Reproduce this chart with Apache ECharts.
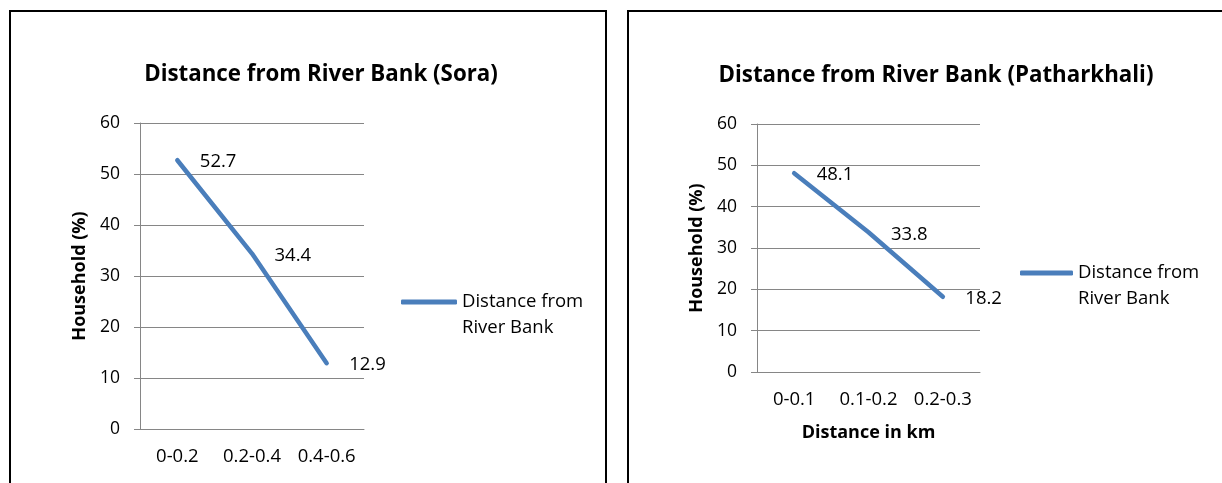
<!DOCTYPE html>
<html>
<head>
<meta charset="utf-8">
<script src="https://cdn.jsdelivr.net/npm/echarts@6/dist/echarts.min.js"></script>
<style>
html,body{margin:0;padding:0;background:#fff;}
#c{width:1222px;height:483px;}
</style>
</head>
<body>
<div id="c"></div>
<script>
var seriesName = 'Distance from River Bank';
var soraCategories = ['0-0.2', '0.2-0.4', '0.4-0.6'];
var soraValues = [52.7, 34.4, 12.9];
var pathCategories = ['0-0.1', '0.1-0.2', '0.2-0.3'];
var pathValues = [48.1, 33.8, 18.2];
var soraTitle = 'Distance from River Bank (Sora)';
var pathTitle = 'Distance from River Bank (Patharkhali)';
var yAxisName = 'Household (%)';
var xAxisName = 'Distance in km';

var FONT = '"Open Sans", "Noto Sans", sans-serif';
var LINE = '#4a7ebb';
var GRID = '#868686';

function yAxis(gridIndex) {
  return {
    type: 'value', gridIndex: gridIndex, min: 0, max: 60, interval: 10,
    name: yAxisName, nameLocation: 'middle', nameGap: 51,
    nameTextStyle: {fontFamily: FONT, fontWeight: 'bold', fontSize: 18, color: '#000'},
    axisLine: {show: true, lineStyle: {color: GRID, width: 1}},
    axisTick: {show: true, length: 6, lineStyle: {color: GRID}},
    axisLabel: {margin: 20, fontFamily: FONT, fontSize: 17.5, color: '#000'},
    splitLine: {show: true, lineStyle: {color: GRID, width: 1}}
  };
}
function xAxis(gridIndex, cats, withName) {
  var a = {
    type: 'category', gridIndex: gridIndex, data: cats, boundaryGap: true,
    axisLine: {show: true, lineStyle: {color: GRID, width: 1}},
    axisTick: {show: false},
    axisLabel: {margin: 18, interval: 0, hideOverlap: false, fontFamily: FONT, fontSize: 18.5, color: '#000'}
  };
  if (withName) {
    a.name = xAxisName; a.nameLocation = 'middle'; a.nameGap = 52;
    a.nameTextStyle = {fontFamily: FONT, fontWeight: 'bold', fontSize: 18, color: '#000'};
  }
  return a;
}
function lineSeries(idx, vals) {
  return {
    type: 'line', name: seriesName, xAxisIndex: idx, yAxisIndex: idx, data: vals,
    showSymbol: true, symbol: 'circle', symbolSize: 1,
    itemStyle: {color: LINE},
    lineStyle: {color: LINE, width: 4.5, cap: 'round'},
    label: {show: true, position: 'right', distance: 22, offset: [0, 2],
      fontFamily: FONT, fontSize: 18.5, color: '#000'},
    emphasis: {disabled: true},
    animation: false
  };
}
function legend(left, top, w) {
  return {
    data: [seriesName], left: left, top: top, padding: 0, orient: 'vertical',
    icon: 'roundRect', itemWidth: w, itemHeight: 5,
    formatter: function () { return '\nDistance from\nRiver Bank'; },
    textStyle: {fontFamily: FONT, fontSize: 18.5, color: '#000', lineHeight: 26},
    selectedMode: false
  };
}

var chart = echarts.init(document.getElementById('c'), null, {renderer: 'canvas'});
chart.setOption({
  animation: false,
  backgroundColor: '#fff',
  grid: [
    {left: 140, top: 123, width: 224, height: 306},
    {left: 757, top: 124, width: 223, height: 248}
  ],
  xAxis: [xAxis(0, soraCategories, false), xAxis(1, pathCategories, true)],
  yAxis: [yAxis(0), yAxis(1)],
  legend: [legend(401, 263, 56), legend(1020, 234, 53)],
  series: [lineSeries(0, soraValues), lineSeries(1, pathValues)],
  graphic: [
    {type: 'rect', shape: {x: 10, y: 11, width: 596, height: 500},
      style: {fill: 'none', stroke: '#000', lineWidth: 2}, silent: true},
    {type: 'rect', shape: {x: 628, y: 11, width: 620, height: 500},
      style: {fill: 'none', stroke: '#000', lineWidth: 2}, silent: true},
    {type: 'text', x: 321, y: 75,
      style: {text: soraTitle, textAlign: 'center', textVerticalAlign: 'middle',
        font: 'bold 22.3px ' + FONT, fill: '#000'}},
    {type: 'text', x: 936, y: 76,
      style: {text: pathTitle, textAlign: 'center', textVerticalAlign: 'middle',
        font: 'bold 22.3px ' + FONT, fill: '#000'}}
  ]
});
</script>
</body>
</html>
